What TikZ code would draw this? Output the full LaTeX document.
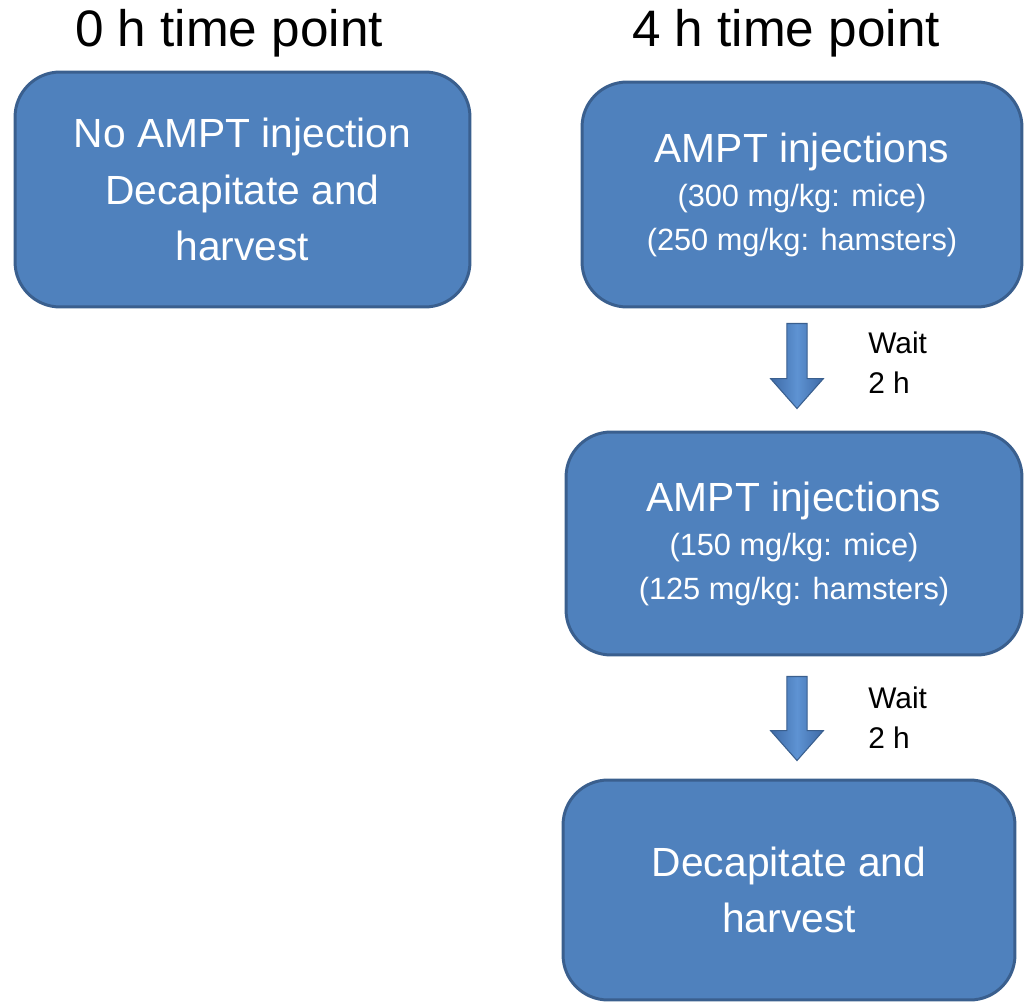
\documentclass[tikz,border=0pt]{standalone}
\usepackage{fontspec}
\setmainfont{Liberation Sans}
\usetikzlibrary{calc}

\definecolor{boxfill}{HTML}{4F81BD}
\definecolor{boxline}{HTML}{3A5F8E}
\definecolor{arrowdark}{HTML}{3E6AA6}
\definecolor{arrowlight}{HTML}{5E93D3}

\newcommand\titlefont{\fontsize{29.2}{34}\selectfont}
\newcommand\bigfont{\fontsize{23.2}{32}\selectfont}
\newcommand\dosefont{\fontsize{17.5}{25}\selectfont}
\newcommand\waitfont{\fontsize{17}{22.8}\selectfont}

% block arrow pointing down from #1 to #2
\newcommand\downblockarrow[2]{%
  \path[blockarrow] let \p1=(#1), \p2=(#2) in
    (\x1-5.8pt,\y1) -- (\x1+5.8pt,\y1) -- (\x1+5.8pt,\y2+17pt)
    -- (\x1+15pt,\y2+17pt) -- (\x1,\y2) -- (\x1-15pt,\y2+17pt)
    -- (\x1-5.8pt,\y2+17pt) -- cycle;}

\begin{document}
\begin{tikzpicture}[x=0.02cm, y=-0.02cm,
  stepbox/.style={draw=boxline, fill=boxfill, line width=1.7pt,
    rounded corners=0.9cm, text=white, align=center, inner sep=0pt},
  heading/.style={font=\titlefont, text=black, inner sep=0pt},
  waitlabel/.style={font=\waitfont, align=left, anchor=west, inner sep=0pt},
  blockarrow/.style={draw=boxline, line width=0.6pt,
    left color=arrowdark, right color=arrowdark, middle color=arrowlight}]

\useasboundingbox (0,0) rectangle (1029,1004);

% column headings
\node[heading] (h0) at (229,33) {0 h time point};
\node[heading] (h4) at (786,33) {4 h time point};

% 0 h column
\node[stepbox, minimum width=9.1cm, minimum height=4.7cm, font=\bigfont]
  (none) at (242.5,189.5) {No AMPT injection\\Decapitate and\\harvest};

% 4 h column
\node[stepbox, minimum width=8.8cm, minimum height=4.5cm, font=\dosefont]
  (first) at (802,194.5)
  {{\bigfont AMPT injections}\\(300 mg/kg: mice)\\(250 mg/kg: hamsters)};
\node[stepbox, minimum width=9.12cm, minimum height=4.46cm, font=\dosefont]
  (second) at (794,543.5)
  {{\bigfont AMPT injections}\\(150 mg/kg: mice)\\(125 mg/kg: hamsters)};
\node[stepbox, minimum width=9.04cm, minimum height=4.4cm, font=\bigfont]
  (harvest) at (789,890) {Decapitate and\\harvest};

% waiting steps
\coordinate (a1top) at ($(first.south)+(-5,15)$);
\coordinate (a1tip) at ($(second.north)+(3,-22)$);
\downblockarrow{a1top}{a1tip}
\node[waitlabel] (w1) at (868,363) {Wait\\2 h};

\coordinate (a2top) at ($(second.south)+(3,20)$);
\coordinate (a2tip) at ($(harvest.north)+(8,-18)$);
\downblockarrow{a2top}{a2tip}
\node[waitlabel] (w2) at (868,718) {Wait\\2 h};

\end{tikzpicture}
\end{document}
